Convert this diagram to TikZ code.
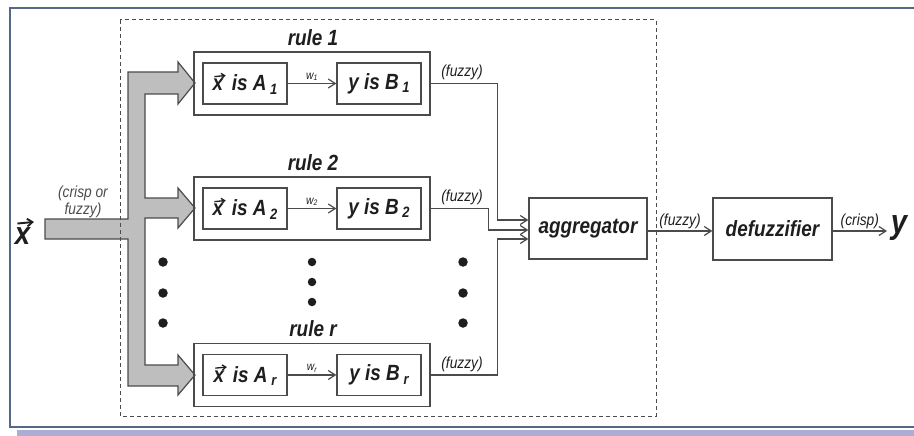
\documentclass[tikz,border=0pt]{standalone}
\usepackage{fontspec}
\setmainfont{Liberation Sans}[FakeStretch=0.86]
\usetikzlibrary{arrows.meta}
\definecolor{ink}{RGB}{30,30,30}
\definecolor{line}{RGB}{75,75,75}
\definecolor{band}{RGB}{190,190,190}
\definecolor{framec}{RGB}{85,105,135}
\definecolor{lavender}{RGB}{172,172,212}
\newcommand\vx{\tikz[baseline=(vxt.base)]{%
  \node[font={}, draw=none, fill=none, inner sep=0pt, outer sep=0pt, minimum size=0pt] (vxt) {x};
  \draw[ink, line width=0.06em, -{Straight Barb[length=0.16em,width=0.24em]}]
    ([xshift=0.08em, yshift=0.12em]vxt.north west) -- ([xshift=0.12em, yshift=0.17em]vxt.north east);}}
\newcommand\sub[1]{\,\raisebox{-0.3ex}{\fontsize{15}{16}\selectfont#1}}
\tikzset{
  every node/.style={font=\bfseries\itshape\fontsize{22}{24}\selectfont, text=ink},
  box/.style={draw=line, line width=1.3pt, inner sep=0pt},
  rulebox/.style={box, minimum width=236pt, minimum height=63pt},
  litbox/.style={box, minimum width=84pt, minimum height=41pt},
  tag/.style={font=\itshape\fontsize{16}{17}\selectfont, inner sep=1.5pt},
  wtag/.style={font=\itshape\fontsize{12}{13}\selectfont, inner sep=2pt},
  wire/.style={draw=line, line width=1.2pt},
  dot/.style={circle, fill=ink, minimum size=9.5pt, inner sep=0pt},
  >={Straight Barb[length=7pt,width=9pt]},
}
\begin{document}
\begin{tikzpicture}[x=1pt,y=-1pt]
      \useasboundingbox (0,0) rectangle (914,436);
      % frame
      \fill[lavender] (17,430) rectangle (914,436);
      \draw[framec, line width=1.6pt] (914,8) -- (10,8) -- (10,427) -- (914,427);
      % fat input arrow
      \draw[line, line width=1.2pt, fill=band]
        (45,219) -- (128,219) -- (128,72) -- (178,72) -- (178,62) -- (195,83)
        -- (178,104) -- (178,94) -- (145,94) -- (145,198) -- (178,198)
        -- (178,188) -- (195,208) -- (178,228) -- (178,218) -- (145,218)
        -- (145,365) -- (178,365) -- (178,355) -- (195,375) -- (178,395)
        -- (178,386) -- (128,386) -- (128,239) -- (45,239) -- cycle;
      \draw[line, line width=1pt, dash pattern=on 4pt off 3pt] (120,20) rectangle (656,416);
      \node (x) at (25,231) {\fontsize{32}{34}\selectfont\vx};
      \node[tag, align=center, text=line] (xtag) at (83,202) {(crisp or\\fuzzy)};
      % rules
      \foreach \i/\y in {1/83.5, 2/208.5, r/375} {
        \node[rulebox] (rule\i) at (312,\y) {};
        \node (name\i) at (313,\y-46) {rule \i};
        \node[litbox] (a\i) at (245,\y) {\vx{} is A\sub{\i}};
        \node[litbox] (b\i) at (379,\y) {y is B\sub{\i}};
        \draw[wire,->] (a\i) -- node[wtag, above] (w\i) {w\textsubscript{\i}} (b\i);
        \node[tag] (f\i) at (462,\y-11) {(fuzzy)};
      }
      \foreach \y in {262,293,323} {
        \node[dot] (dl\y) at (163,\y) {};
        \node[dot] (dr\y) at (463,\y) {};
      }
      \foreach \y in {262,282,302}
        \node[dot, minimum size=8.5pt] (dm\y) at (312,\y) {};
      % aggregation
      \node[box, minimum width=118pt, minimum height=61pt] (agg) at (588,228.5) {aggregator};
      \node[box, minimum width=119pt, minimum height=62pt] (defuzz) at (772.5,229) {defuzzifier};
      \node (y) at (899,228) {\fontsize{34}{36}\selectfont y};
      \coordinate (yin) at (887,231);
      \begin{scope}[wire,->]
        \draw (rule1.east) -- ++(67,0) |- ([yshift=8.5pt]agg.west);
        \draw (rule2.east) -- ++(58,0) |- ([yshift=-1.5pt]agg.west);
        \draw (ruler.east) -- ++(67,0) |- ([yshift=-10.5pt]agg.west);
        \draw (agg.east |- yin) -- node[tag, above] (fz) {(fuzzy)} (defuzz.west |- yin);
        \draw (defuzz.east |- yin) -- node[tag, above] (cr) {(crisp)} (yin);
      \end{scope}
    \end{tikzpicture}
\end{document}
